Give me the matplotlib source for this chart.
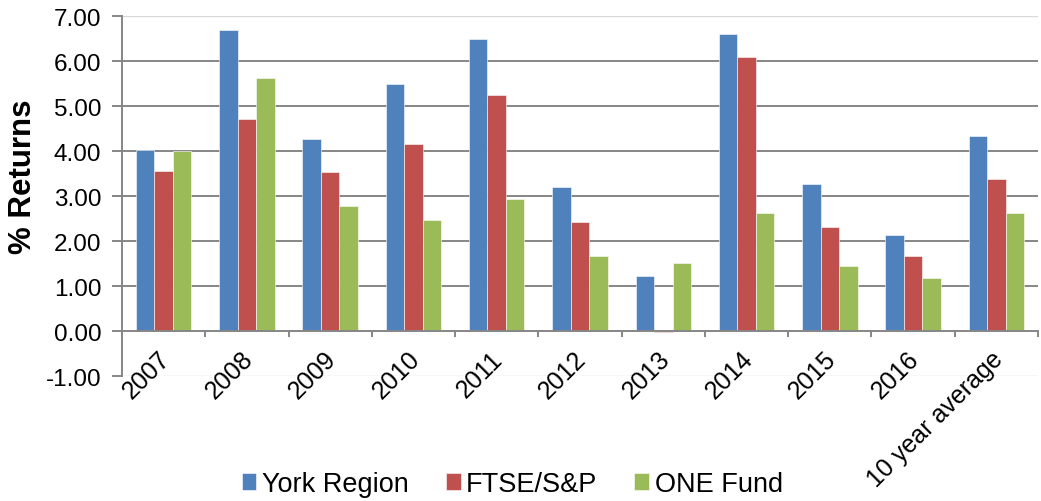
import matplotlib
matplotlib.use("Agg")
import matplotlib.pyplot as plt
import matplotlib.transforms as mtransforms
import numpy as np

plt.rcParams["font.family"] = ["Liberation Sans", "DejaVu Sans"]

# data
categories = ["2007", "2008", "2009", "2010", "2011", "2012", "2013",
              "2014", "2015", "2016", "10 year average"]
york_region = [4.02, 6.69, 4.27, 5.48, 6.48, 3.21, 1.23, 6.61, 3.26, 2.13, 4.34]
ftse_sp = [3.56, 4.72, 3.54, 4.16, 5.24, 2.42, -0.02, 6.08, 2.32, 1.66, 3.37]
one_fund = [3.99, 5.63, 2.77, 2.46, 2.94, 1.66, 1.51, 2.62, 1.44, 1.17, 2.62]

series = [("York Region", york_region, "#4F81BD"),
          ("FTSE/S&P", ftse_sp, "#C0504D"),
          ("ONE Fund", one_fund, "#9BBB59")]

GRID = "#868686"

fig = plt.figure(figsize=(10.41, 5.02), dpi=100)
ax = fig.add_axes([0.1172, 0.249, 0.8799, 0.7171])

x = np.arange(len(categories))
w = 0.222
for k, (name, vals, col) in enumerate(series):
    ax.bar(x + (k - 1) * w, vals, w, color=col, label=name,
           edgecolor="white", linewidth=0.4, zorder=3)

ax.set_xlim(-0.5, len(categories) - 0.5)
ax.set_ylim(-1, 7)

# horizontal gridlines
for v in range(1, 7):
    ax.axhline(v, color=GRID, lw=1.4, zorder=1)
for v in (-1, 7):
    ax.axhline(v, color="#d9d9d9", lw=1.0, zorder=1)

for s in ("top", "right"):
    ax.spines[s].set_visible(False)
ax.spines["left"].set_color(GRID)
ax.spines["left"].set_linewidth(1.4)
ax.spines["bottom"].set_position(("data", 0))
ax.spines["bottom"].set_color(GRID)
ax.spines["bottom"].set_linewidth(1.4)
ax.spines["bottom"].set_zorder(4)

ax.set_yticks(range(-1, 8))
ax.set_yticklabels([f"{v:.2f}" for v in range(-1, 8)], fontsize=17.5)
ax.tick_params(axis="y", direction="out", length=7, width=1.4, color=GRID, pad=8)

# tick marks at category boundaries, labels at centres
ax.set_xticks(np.arange(-0.5, len(categories), 1.0))
ax.set_xticklabels([])
ax.set_xticks(x, minor=True)
ax.set_xticklabels(categories, minor=True, rotation=45, ha="right", va="top",
                   rotation_mode="anchor", fontsize=18)
ax.tick_params(axis="x", which="major", direction="out", length=4.5, width=1.4, color=GRID)
ax.tick_params(axis="x", which="minor", length=0, pad=11)
shift = mtransforms.ScaledTranslation(-6 / 100, 0, fig.dpi_scale_trans)
for lab in ax.get_xticklabels(minor=True):
    lab.set_transform(lab.get_transform() + shift)

ax.set_ylabel("% Returns", fontsize=22.5, fontweight="bold")
ax.yaxis.set_label_coords(-0.092, 0.556)

fig.legend(loc="center", bbox_to_anchor=(0.492, 0.034), ncol=3, frameon=False,
           fontsize=19.5, handlelength=0.55, handleheight=0.55, handletextpad=0.2,
           columnspacing=1.37)

fig.savefig("out.png", dpi=100)
